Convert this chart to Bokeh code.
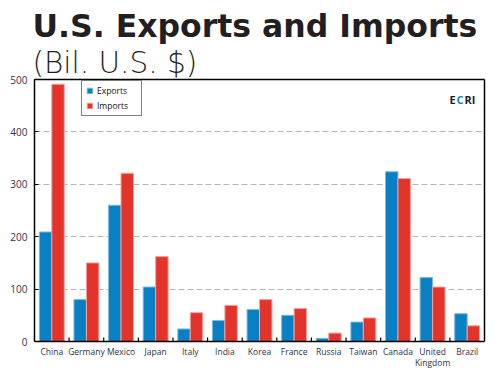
from bokeh.plotting import figure
from bokeh.models import (ColumnDataSource, FactorRange, Range1d, Legend, LegendItem,
                          Label, FixedTicker, Title, LinearAxis)
from bokeh.transform import dodge
from bokeh.embed import file_html
from bokeh.resources import INLINE

countries = ["China", "Germany", "Mexico", "Japan", "Italy", "India", "Korea",
             "France", "Russia", "Taiwan", "Canada", "United\nKingdom", "Brazil"]
exports = [209, 80, 260, 104, 24, 40, 61, 50, 6, 37, 324, 122, 53]
imports = [491, 150, 321, 162, 55, 69, 80, 63, 16, 45, 311, 104, 30]
y_ticks = [0, 100, 200, 300, 400, 500]

BLUE = "#0a80c4"
RED = "#e2342b"
TXT = "#2e3048"

src = ColumnDataSource(dict(country=countries, exports=exports, imports=imports))

p = figure(width=495, height=375, x_range=FactorRange(*countries, range_padding=0),
           y_range=Range1d(0, 500), output_backend="svg", toolbar_location=None,
           title=None,
           min_border_left=34, min_border_right=11, min_border_top=79, min_border_bottom=34)
p.x_range.factor_padding = 0

r1 = p.vbar(x=dodge("country", -0.18, range=p.x_range), top="exports", width=0.36,
            source=src, fill_color=BLUE, line_color="#7db8e0", line_width=1)
r2 = p.vbar(x=dodge("country", 0.18, range=p.x_range), top="imports", width=0.36,
            source=src, fill_color=RED, line_color="#f2a39e", line_width=1)

# category boundary ticks
bounds = list(range(1, len(countries)))
tsrc = ColumnDataSource(dict(x0=bounds, y0=[0] * len(bounds), y1=[7.5] * len(bounds)))
p.segment(x0="x0", y0="y0", x1="x0", y1="y1", source=tsrc, line_color="black", line_width=1.2)

p.outline_line_color = None
p.background_fill_color = "white"
p.border_fill_color = "white"

# frame lines on top and right
for loc in ("above", "right"):
    ax = LinearAxis(ticker=FixedTicker(ticks=[]), axis_line_color="black",
                    axis_line_width=1.5, major_tick_line_color=None,
                    minor_tick_line_color=None, major_label_text_font_size="0px",
                    major_label_standoff=0, major_tick_out=0, major_tick_in=0)
    p.add_layout(ax, loc)

p.xgrid.grid_line_color = None
p.ygrid.grid_line_color = "#b5b5b5"
p.ygrid.grid_line_dash = "6 3"
p.ygrid.grid_line_width = 1
p.yaxis[0].ticker = FixedTicker(ticks=y_ticks)

for ax in (p.below[0], p.left[0]):
    ax.axis_line_color = "black"
    ax.axis_line_width = 1.5
    ax.major_label_text_font = "Open Sans"
    ax.major_label_text_color = TXT
    ax.minor_tick_line_color = None

xa = p.below[0]
ya = p.left[0]
xa.major_tick_line_color = None
xa.major_tick_in = 0
xa.major_tick_out = 0
xa.major_label_text_font_size = "8.5px"
xa.major_label_text_line_height = 1.0
xa.major_label_standoff = 4
ya.major_tick_in = 4
ya.major_tick_out = 0
ya.major_tick_line_color = "black"
ya.major_label_text_font_size = "10px"
ya.major_label_standoff = 7

legend = Legend(items=[LegendItem(label="Exports", renderers=[r1]),
                       LegendItem(label="Imports", renderers=[r2])],
                location=(47, 225), border_line_color="black", border_line_width=1,
                label_text_font="Open Sans", label_text_font_size="8.5px",
                label_text_color="#111111", glyph_width=7, glyph_height=7,
                spacing=4, padding=4, margin=0, label_standoff=4, label_height=9,
                label_width=40)
p.add_layout(legend, "center")

sub = Title(text="(Bil. U.S. $)", text_font="DejaVu Sans Light, DejaVu Sans",
            text_font_style="normal", text_font_size="29.5px", text_color="#231f20",
            offset=-2, standoff=0)
title = Title(text="U.S. Exports and Imports", text_font="DejaVu Sans",
              text_font_style="bold", text_font_size="31.5px", text_color="#231f20",
              offset=-2, standoff=0)
p.add_layout(sub, "above")
p.add_layout(title, "above")

for t, xx, col in (("E", 11.99, "#231f20"), ("C", 12.19, BLUE), ("RI", 12.42, "#231f20")):
    p.add_layout(Label(x=xx, y=462, text=t, text_font="Open Sans", text_font_style="bold",
                       text_font_size="11px", text_color=col, text_baseline="alphabetic"))

open("out.html", "w").write(file_html(p, INLINE))
